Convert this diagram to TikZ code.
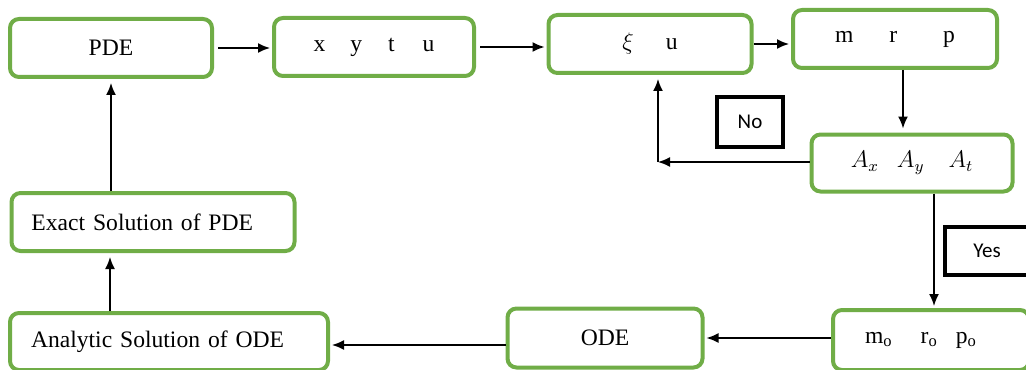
\documentclass[tikz,border=0pt]{standalone}
\usepackage{fontspec}
\setmainfont{Liberation Serif}
\newfontfamily\calib{Carlito}
\usetikzlibrary{arrows.meta,calc}
\definecolor{boxgreen}{HTML}{70AD47}
\tikzset{
  gbox/.style={draw=boxgreen, line width=2pt, rounded corners=4.5pt, fill=white,
    inner sep=0pt, font=\fontsize{11.8}{14}\selectfont},
  kbox/.style={draw=black, line width=2pt, inner sep=0pt, fill=white,
    font=\calib\fontsize{10.5}{12}\selectfont},
  arr/.style={line width=0.8pt, -{Latex[length=6pt,width=5pt]}},
}
\begin{document}
\begin{tikzpicture}[x=0.5pt,y=-0.5pt]
\useasboundingbox (0,0) rectangle (1026,369);
% nodes
\node[gbox, minimum width=101pt, minimum height=29pt] (pde) at (111,48) {PDE};
\node[gbox, minimum width=100pt, minimum height=29pt] (xytu) at (374,47)
  {x\hspace{12.5pt}y\hspace{13pt}t\hspace{14pt}u};
\node[gbox, minimum width=101.5pt, minimum height=29pt] (xiu) at (650,44)
  {$\xi$\hspace{16pt}u};
\node[gbox, minimum width=102pt, minimum height=29pt] (mrp) at (895,39)
  {m\hspace{18pt}r\hspace{23pt}p};
\node[gbox, minimum width=100.5pt, minimum height=28.5pt] (axyt) at (912,163)
  {\large$A_x$\hspace{9pt}$A_y$\hspace{12pt}$A_t$};
\node[kbox, minimum width=33pt, minimum height=25pt] (no) at (750,122) {No};
\node[gbox, minimum height=29pt, text width=121.5pt, inner xsep=10pt, align=left] (exact) at (153,222)
  {Exact Solution of PDE};
\node[gbox, minimum height=28.5pt, text width=138pt, inner xsep=10.5pt, align=left] (analytic) at (169,341.5)
  {Analytic Solution of ODE};
\node[gbox, minimum width=97.5pt, minimum height=29.5pt] (ode) at (605,338) {ODE};
\node[gbox, minimum width=98pt, minimum height=30pt] (mo) at (931,340)
  {\hspace{-10pt}m$_\mathrm{o}$\hspace{14pt}r$_\mathrm{o}$\hspace{9pt}p$_\mathrm{o}$};
\node[kbox, minimum width=42pt, minimum height=24pt] (yes) at (987,251) {Yes};
% helper coordinates
\coordinate (c1) at (903,0);
\coordinate (c2) at (934,0);
\coordinate (fb) at (658,162);
\coordinate (c3) at (110,0);
\coordinate (ody) at (0,345);
% connectors
\draw[arr, shorten <=2pt, shorten >=1pt] (pde.east) -- (xytu.west |- pde.east);
\draw[arr, shorten <=2pt, shorten >=1pt] (xytu.east) -- (xiu.west |- xytu.east);
\draw[arr, shorten >=1pt] (xiu.east) -- (mrp.west |- xiu.east);
\draw[arr, shorten >=2pt] (c1 |- mrp.south) -- (c1 |- axyt.north);
\draw[arr] (axyt.west |- fb) -- (fb);
\draw[arr, shorten >=2pt] (fb) -- (fb |- xiu.south);
\draw[arr, shorten >=1pt] (c2 |- axyt.south) -- (c2 |- mo.north);
\draw[arr, shorten >=1pt] (mo.west |- ode.east) -- (ode.east);
\draw[arr, shorten >=1pt] (ode.west |- ody) -- (analytic.east |- ody);
\draw[arr, shorten >=2pt] (c3 |- analytic.north) -- (c3 |- exact.south);
\draw[arr, shorten >=2pt] (exact.north -| pde.south) -- (pde.south);
\end{tikzpicture}
\end{document}
